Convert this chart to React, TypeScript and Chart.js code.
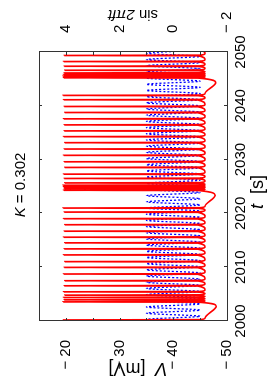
import React, { useEffect, useRef } from 'react';
import { Chart, registerables } from 'chart.js';

Chart.register(...registerables);

const FONT = "'Liberation Sans', Arial, Helvetica, sans-serif";

// axis ticks
const xTicks = [2000, 2010, 2020, 2030, 2040, 2050];
const vTickLabels = [-20, -30, -40, -50];
const vTickMarks = [-50, -45, -40, -35, -30, -25, -20, -15];
const sTickLabels = [4, 2, 0, -2];

// red trace: spike times [s] and peak voltages [mV]
const spikeT = [
  1999.4, 2000.19, 2003.55, 2003.93, 2004.36, 2004.8, 2005.42, 2006.54, 2007.48, 2008.73,
  2009.96, 2011.03, 2012.28, 2013.4, 2014.52, 2015.57, 2016.69, 2017.89, 2019.01, 2020.24,
  2020.99, 2024.3, 2024.62, 2024.92, 2025.23, 2025.66, 2026.49, 2027.29, 2028.54, 2029.59,
  2030.79, 2031.96, 2033.14, 2034.26, 2035.33, 2036.45, 2037.57, 2038.75, 2039.87, 2041.12,
  2041.93, 2045.2, 2045.5, 2045.8, 2046.1, 2046.6, 2047.35, 2048.22, 2049.35, 2050.45,
];
const spikeV = [
  -19.7, -19.6, -19.5, -19.7, -19.6, -19.8, -19.6, -19.7, -19.8, -19.6,
  -19.7, -19.8, -19.6, -19.7, -19.8, -19.6, -19.7, -19.8, -19.6, -19.7,
  -19.5, -19.6, -19.7, -19.6, -19.5, -19.8, -19.7, -19.6, -19.8, -19.7,
  -19.6, -19.7, -19.8, -19.6, -19.7, -19.7, -19.6, -19.8, -19.7, -19.6,
  -19.5, -19.6, -19.5, -19.6, -19.7, -19.8, -19.7, -19.6, -19.7, -19.7,
];
const troughV = [-45.9];
const preSpikeV = [-44.6];
// quiescent dips between bursts
const dipT = [2002.75, 2023.35, 2044.3];
const dipV = [-48.0, -47.8, -47.9];

// blue trace: sin 2πft extrema times
const sinePeakT = [
  2000.3, 2001.45, 2002.6, 2003.75, 2004.9, 2006.05, 2007.2, 2008.35, 2009.5, 2010.65,
  2011.8, 2012.95, 2014.1, 2015.25, 2016.4, 2017.55, 2018.7, 2019.85, 2021.0, 2022.15,
  2023.3, 2024.45, 2025.6, 2026.75, 2027.9, 2029.05, 2030.2, 2031.35, 2032.5, 2033.65,
  2034.8, 2035.95, 2037.1, 2038.25, 2039.4, 2040.55, 2041.7, 2042.85, 2044.0, 2045.15,
  2046.3, 2047.45, 2048.6, 2049.75,
];
const sineTroughT = [
  1999.73, 2000.88, 2002.03, 2003.18, 2004.33, 2005.48, 2006.63, 2007.78, 2008.93, 2010.08,
  2011.23, 2012.38, 2013.53, 2014.68, 2015.83, 2016.98, 2018.13, 2019.28, 2020.43, 2021.58,
  2022.73, 2023.88, 2025.03, 2026.18, 2027.33, 2028.48, 2029.63, 2030.78, 2031.93, 2033.08,
  2034.23, 2035.38, 2036.53, 2037.68, 2038.83, 2039.98, 2041.13, 2042.28, 2043.43, 2044.58,
  2045.73, 2046.88, 2048.03, 2049.18, 2050.33,
];
const sinePeakV = [1];
const sineTroughV = [-1];

function buildRed() {
  const pts: { x: number; y: number }[] = [];
  for (let i = 0; i < spikeT.length; i++) {
    const t = spikeT[i];
    const next = spikeT[i + 1];
    pts.push({ x: t - 0.04, y: preSpikeV[0] });
    pts.push({ x: t, y: spikeV[i] });
    pts.push({ x: t + 0.06, y: -45.0 });
    if (next === undefined) continue;
    const gap = next - t;
    pts.push({ x: t + Math.min(0.35, gap * 0.5), y: troughV[0] });
    const d = dipT.findIndex((dt) => dt > t && dt < next);
    if (d >= 0) {
      pts.push({ x: dipT[d], y: dipV[d] });
    }
  }
  return pts;
}

function buildBlue() {
  const pts: { x: number; y: number }[] = [];
  sinePeakT.forEach((t) => pts.push({ x: t, y: sinePeakV[0] }));
  sineTroughT.forEach((t) => pts.push({ x: t, y: sineTroughV[0] }));
  pts.sort((a, b) => a.x - b.x);
  return pts;
}

const fmt = (v: number) => (v < 0 ? '\u2212 ' + Math.abs(v) : String(v));

type Part = [string, boolean];
function drawRich(ctx: CanvasRenderingContext2D, parts: Part[], x: number, y: number, size: number, rot: number) {
  ctx.save();
  ctx.translate(x, y);
  ctx.rotate(rot);
  ctx.textBaseline = 'middle';
  ctx.textAlign = 'left';
  ctx.fillStyle = '#000';
  let w = 0;
  for (const [s, it] of parts) {
    ctx.font = `${it ? 'italic ' : ''}${size}px ${FONT}`;
    w += ctx.measureText(s).width;
  }
  let cx = -w / 2;
  for (const [s, it] of parts) {
    ctx.font = `${it ? 'italic ' : ''}${size}px ${FONT}`;
    ctx.fillText(s, cx, 0);
    cx += ctx.measureText(s).width;
  }
  ctx.restore();
}

const decor = {
  id: 'decor',
  afterDatasetsDraw(chart: any) {
    const { ctx, chartArea: a, scales } = chart;
    ctx.save();
    ctx.strokeStyle = '#333';
    ctx.lineWidth = 1;
    const tl = 3;
    ctx.beginPath();
    for (const t of xTicks) {
      const x = Math.round(scales.x.getPixelForValue(t)) + 0.5;
      ctx.moveTo(x, a.bottom);
      ctx.lineTo(x, a.bottom - tl);
      ctx.moveTo(x, a.top);
      ctx.lineTo(x, a.top + tl);
    }
    for (const v of vTickMarks) {
      const y = Math.round(scales.y.getPixelForValue(v)) + 0.5;
      ctx.moveTo(a.left, y);
      ctx.lineTo(a.left + tl, y);
      ctx.moveTo(a.right, y);
      ctx.lineTo(a.right - tl, y);
    }
    ctx.stroke();
    ctx.strokeRect(Math.round(a.left) + 0.5, Math.round(a.top) + 0.5, Math.round(a.right - a.left), Math.round(a.bottom - a.top));

    // x tick labels
    ctx.fillStyle = '#000';
    ctx.font = `15px ${FONT}`;
    ctx.textAlign = 'center';
    ctx.textBaseline = 'middle';
    for (const t of xTicks) {
      ctx.fillText(String(t), scales.x.getPixelForValue(t), a.bottom + 14);
    }
    ctx.restore();

    drawRich(ctx, [['K', true], [' = 0.302', false]], 197, 21, 15, 0);
    drawRich(ctx, [['t', true], ['  [s]', false]], 190, 258, 18, 0);
    drawRich(ctx, [['V', true], ['  [mV]', false]], 14, 138, 18, -Math.PI / 2);
    drawRich(ctx, [['sin ', false], ['2\u03C0ft', true]], 368, 133, 15, -Math.PI / 2);
  },
};

export default function App() {
  const ref = useRef<HTMLCanvasElement | null>(null);
  useEffect(() => {
    if (!ref.current) return;
    const tickFont = { family: FONT, size: 15 };
    const chart = new Chart(ref.current, {
      type: 'line',
      data: {
        datasets: [
          {
            data: buildRed(),
            yAxisID: 'y',
            borderColor: '#ff0000',
            borderWidth: 1.7,
            pointRadius: 0,
            cubicInterpolationMode: 'monotone',
            fill: false,
          },
          {
            data: buildBlue(),
            yAxisID: 'y1',
            borderColor: '#0000ff',
            borderWidth: 1.3,
            borderDash: [2, 2],
            pointRadius: 0,
            cubicInterpolationMode: 'monotone',
            fill: false,
          },
        ],
      },
      options: {
        animation: false,
        responsive: false,
        events: [],
        layout: { padding: { top: 39, left: 0, right: 0, bottom: 0 } },
        plugins: { legend: { display: false }, tooltip: { enabled: false }, title: { display: false } },
        scales: {
          x: {
            type: 'linear',
            min: 2000,
            max: 2050,
            grid: { display: false },
            border: { display: false },
            ticks: { display: false },
            afterFit: (s: any) => {
              s.height = 40;
            },
          },
          y: {
            type: 'linear',
            position: 'left',
            min: -50,
            max: -15,
            grid: { display: false },
            border: { display: false },
            afterBuildTicks: (s: any) => {
              s.ticks = vTickLabels.map((v) => ({ value: v }));
            },
            ticks: { font: tickFont, color: '#000', padding: 11, callback: (v: any) => fmt(Number(v)) },
            afterFit: (s: any) => {
              s.width = 61;
            },
          },
          y1: {
            type: 'linear',
            position: 'right',
            min: -2,
            max: 5,
            grid: { display: false },
            border: { display: false },
            afterBuildTicks: (s: any) => {
              s.ticks = sTickLabels.map((v) => ({ value: v }));
            },
            ticks: { font: tickFont, color: '#000', padding: 11, callback: (v: any) => fmt(Number(v)) },
            afterFit: (s: any) => {
              s.width = 52;
            },
          },
        },
      } as any,
      plugins: [decor],
    });
    return () => chart.destroy();
  }, []);

  return (
    <div style={{ position: 'fixed', left: 0, top: 0, width: 267, height: 382, overflow: 'hidden', background: '#fff' }}>
      <div
        style={{
          position: 'absolute',
          left: 0,
          top: 0,
          width: 382,
          height: 267,
          transformOrigin: '0 0',
          transform: 'translate(0px, 382px) rotate(-90deg)',
        }}
      >
        <canvas ref={ref} width={382} height={267} style={{ display: 'block', width: 382, height: 267 }} />
      </div>
    </div>
  );
}
